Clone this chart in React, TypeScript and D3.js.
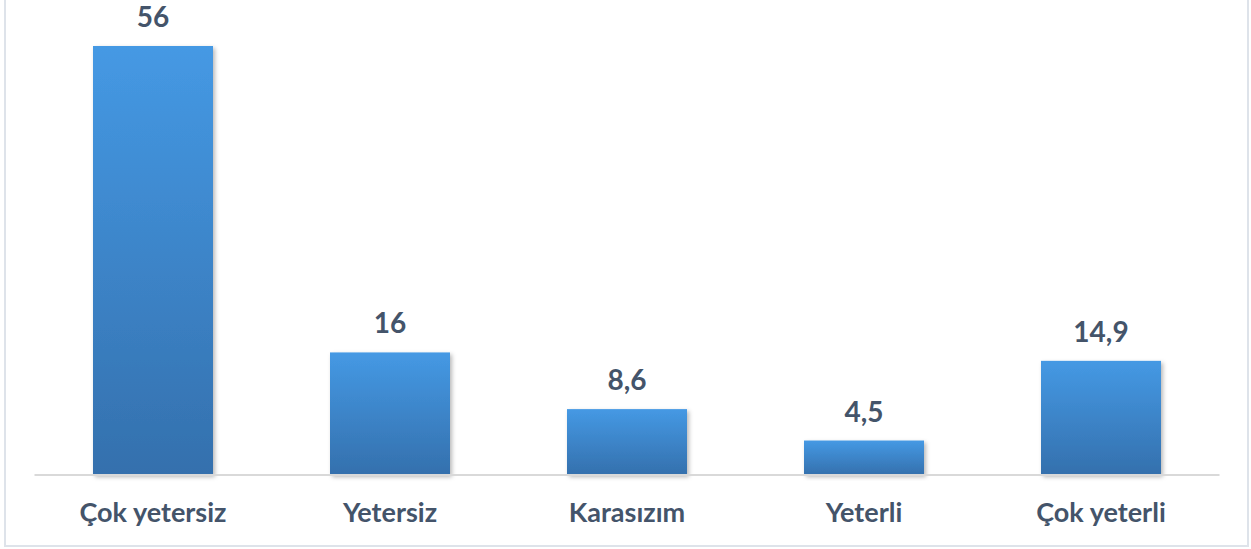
import React from 'react'
import * as d3 from 'd3'

const categories = ['Çok yetersiz', 'Yetersiz', 'Karasızım', 'Yeterli', 'Çok yeterli']
const values = [56, 16, 8.6, 4.5, 14.9]
const valueLabels = ['56', '16', '8,6', '4,5', '14,9']

const width = 1251
const height = 549
const textColor = '#44546a'
const fontFamily = 'Lato, "Open Sans", sans-serif'

export default function App() {
  const baseY = 475
  const x = d3.scaleBand<string>().domain(categories).range([34.5, 1219.5])
  const barW = 120
  const y = d3.scaleLinear().domain([0, 56]).range([baseY, 46])

  return (
    <svg
      width={width}
      height={height}
      style={{ position: 'absolute', left: 0, top: 0, background: '#fff' }}
    >
      <defs>
        <linearGradient id="barGrad" x1="0" y1="0" x2="0" y2="1">
          <stop offset="0%" stopColor="#4599e4" />
          <stop offset="100%" stopColor="#3470ad" />
        </linearGradient>
        <filter id="shadow" x="-10%" y="-10%" width="125%" height="125%">
          <feDropShadow dx="2" dy="2" stdDeviation="2" floodColor="#000" floodOpacity="0.28" />
        </filter>
      </defs>

      {/* chart border */}
      <rect x={5} y={-10} width={1243} height={556} fill="none" stroke="#dee3ea" strokeWidth={2} />

      {/* bars */}
      {categories.map((c, i) => {
        const cx = x(c)! + x.bandwidth() / 2
        return (
          <rect
            key={c}
            x={cx - barW / 2}
            y={y(values[i])}
            width={barW}
            height={baseY - y(values[i])}
            fill="url(#barGrad)"
            filter="url(#shadow)"
          />
        )
      })}

      {/* baseline */}
      <line x1={34.5} x2={1219.5} y1={baseY} y2={baseY} stroke="#d9d9d9" strokeWidth={2} />

      {/* value labels */}
      {categories.map((c, i) => (
        <text
          key={'v' + c}
          x={x(c)! + x.bandwidth() / 2}
          y={y(values[i]) - 19}
          textAnchor="middle"
          fill={textColor}
          fontFamily={fontFamily}
          fontWeight={700}
          fontSize={28}
        >
          {valueLabels[i]}
        </text>
      ))}

      {/* category labels */}
      {categories.map(c => (
        <text
          key={'c' + c}
          x={x(c)! + x.bandwidth() / 2}
          y={522}
          textAnchor="middle"
          fill={textColor}
          fontFamily={fontFamily}
          fontWeight={700}
          fontSize={27}
        >
          {c}
        </text>
      ))}
    </svg>
  )
}
